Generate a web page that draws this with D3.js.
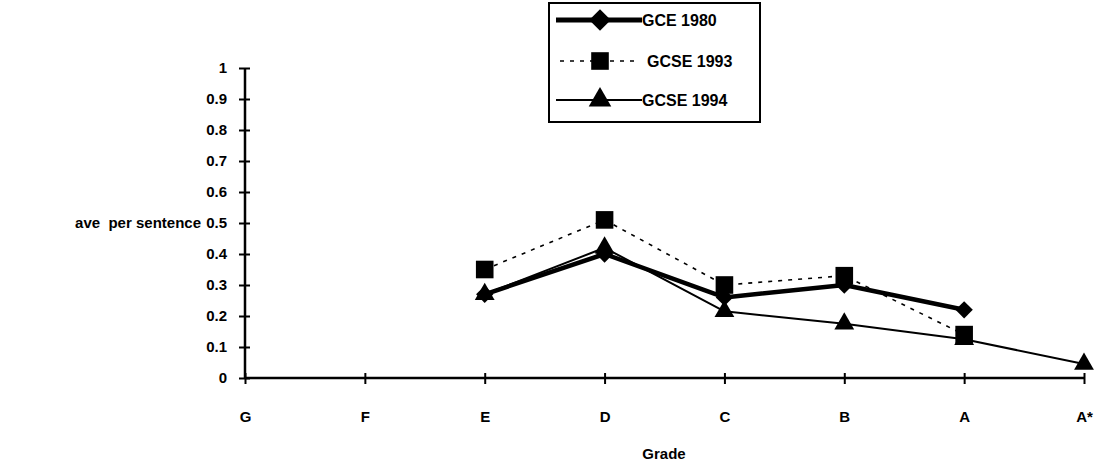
<!DOCTYPE html>
<html>
<head>
<meta charset="utf-8">
<script src="https://cdn.jsdelivr.net/npm/d3@7"></script>
<style>
  html, body { margin: 0; padding: 0; background: #fff; }
  svg text { font-family: "Liberation Sans", Arial, Helvetica, sans-serif; font-weight: bold; fill: #000; }
</style>
</head>
<body>
<svg id="chart" width="1097" height="465"></svg>
<script>
const grades = ["G", "F", "E", "D", "C", "B", "A", "A*"];
const yTicks = [0, 0.1, 0.2, 0.3, 0.4, 0.5, 0.6, 0.7, 0.8, 0.9, 1];
const gce1980Grades = ["E", "D", "C", "B", "A"];
const gce1980Values = [0.27, 0.40, 0.26, 0.30, 0.22];
const gcse1993Grades = ["E", "D", "C", "B", "A"];
const gcse1993Values = [0.35, 0.51, 0.30, 0.33, 0.14];
const gcse1994Grades = ["E", "D", "C", "B", "A", "A*"];
const gcse1994Values = [0.27, 0.42, 0.215, 0.175, 0.125, 0.045];
const seriesNames = ["GCE 1980", "GCSE 1993", "GCSE 1994"];

const svg = d3.select("#chart");
const x = d3.scalePoint().domain(grades).range([245, 1084]).padding(0);
const y = d3.scaleLinear().domain([0, 1]).range([378, 68]);

const diamond = {
  draw(ctx, size) {
    const r = Math.sqrt(size / 2);
    ctx.moveTo(0, -r); ctx.lineTo(r, 0); ctx.lineTo(0, r); ctx.lineTo(-r, 0); ctx.closePath();
  }
};

// Y axis
const yAxis = svg.append("g").attr("transform", "translate(245,0)")
  .call(d3.axisLeft(y).tickValues(yTicks).tickSize(6).tickPadding(12)
    .tickFormat(d => d3.format("")(+d.toFixed(1))));
yAxis.select(".domain").attr("stroke", "#000").attr("stroke-width", 2.5).attr("d", `M0,${y(1)}V${y(0)}`);
yAxis.selectAll(".tick line").attr("stroke", "#000").attr("stroke-width", 2).attr("x1", 5);
yAxis.selectAll(".tick text").style("font-size", "15px").attr("fill", "#000");

// X axis
const xAxis = svg.append("g").attr("transform", `translate(0,${y(0)})`)
  .call(d3.axisBottom(x).tickSize(6).tickPadding(27));
xAxis.select(".domain").attr("stroke", "#000").attr("stroke-width", 2.5).attr("d", `M${x("G")},0H${x("A*")}`);
xAxis.selectAll(".tick line").attr("stroke", "#000").attr("stroke-width", 2).attr("y1", -5);
xAxis.selectAll(".tick text").style("font-size", "15px").attr("fill", "#000");

svg.append("text").attr("x", 664).attr("y", 459).attr("text-anchor", "middle")
  .style("font-size", "15px").text("Grade");
svg.append("text").attr("x", 201).attr("y", y(0.5) + 5).attr("text-anchor", "end")
  .style("font-size", "15px").style("white-space", "pre").text("ave  per sentence");

const line = d3.line().x(d => x(d.g)).y(d => y(d.v));
const zip = (gs, vs) => gs.map((g, i) => ({ g, v: vs[i] }));

const styles = [
  { data: zip(gce1980Grades, gce1980Values), width: 4.5, dash: null, marker: diamond, size: 150, lsize: 230 },
  { data: zip(gcse1993Grades, gcse1993Values), width: 1.6, dash: "4,6", marker: d3.symbolSquare, size: 310, lsize: 310 },
  { data: zip(gcse1994Grades, gcse1994Values), width: 2, dash: null, marker: d3.symbolTriangle, size: 170, lsize: 220 }
];

const order = [styles[1], styles[2], styles[0]];
order.forEach(s => {
  svg.append("path").datum(s.data).attr("d", line)
    .attr("fill", "none").attr("stroke", "#000").attr("stroke-width", s.width)
    .attr("stroke-dasharray", s.dash).attr("stroke-linejoin", "round");
});
order.forEach(s => {
  svg.selectAll(null).data(s.data).enter().append("path")
    .attr("d", d3.symbol().type(s.marker).size(s.size))
    .attr("transform", d => `translate(${x(d.g)},${y(d.v)})`)
    .attr("fill", "#000");
});

// Legend
const lg = svg.append("g");
lg.append("rect").attr("x", 549).attr("y", 3).attr("width", 211).attr("height", 119)
  .attr("fill", "#fff").attr("stroke", "#000").attr("stroke-width", 2);
const rowY = [20, 61, 100];
styles.forEach((s, i) => {
  lg.append("line").attr("x1", i === 1 ? 560 : 556).attr("x2", i === 1 ? 636 : 642).attr("y1", rowY[i]).attr("y2", rowY[i])
    .attr("stroke", "#000").attr("stroke-width", s.width + (i === 0 ? 0.5 : 0)).attr("stroke-dasharray", s.dash);
  lg.append("path").attr("d", d3.symbol().type(s.marker).size(s.lsize))
    .attr("transform", `translate(600,${rowY[i]})`).attr("fill", "#000");
  lg.append("text").attr("x", i === 1 ? 647 : 642).attr("y", rowY[i] + 6)
    .style("font-size", "16px").text(seriesNames[i]);
});
</script>
</body>
</html>
